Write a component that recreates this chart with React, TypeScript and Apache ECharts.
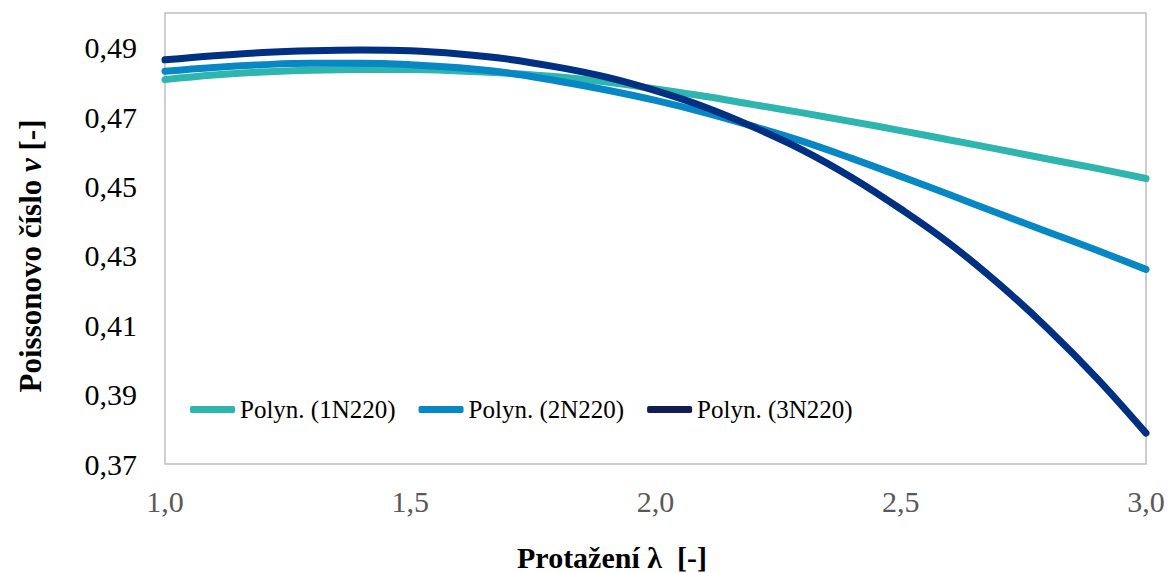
import React, { useEffect, useRef } from "react";
import * as echarts from "echarts";

// Stretch ratio λ at which each fitted curve is sampled
const lambdaValues = [
  1.0, 1.1, 1.2, 1.3, 1.4, 1.5, 1.6, 1.7, 1.8, 1.9, 2.0,
  2.1, 2.2, 2.3, 2.4, 2.5, 2.6, 2.7, 2.8, 2.9, 3.0,
];

// Poisson's ratio of the polynomial trend lines
const poly1N220 = [
  0.4808, 0.4821, 0.483, 0.4835, 0.4837, 0.4837, 0.4833, 0.4826, 0.4816, 0.4801, 0.4781,
  0.476, 0.4736, 0.4712, 0.4687, 0.4661, 0.4634, 0.4607, 0.4579, 0.4552, 0.4523,
];
const poly2N220 = [
  0.4832, 0.4843, 0.4851, 0.4855, 0.4855, 0.4851, 0.4842, 0.4827, 0.4804, 0.4778, 0.4748,
  0.4713, 0.4673, 0.463, 0.4581, 0.4529, 0.4476, 0.4422, 0.4369, 0.4316, 0.4261,
];
const poly3N220 = [
  0.4865, 0.4877, 0.4886, 0.4891, 0.4893, 0.4891, 0.4882, 0.4867, 0.4844, 0.4815, 0.4776,
  0.4729, 0.4671, 0.4605, 0.4526, 0.4435, 0.4335, 0.4219, 0.409, 0.3947, 0.3789,
];

const seriesNames = ["Polyn. (1N220)", "Polyn. (2N220)", "Polyn. (3N220)"];
const seriesValues = [poly1N220, poly2N220, poly3N220];
const seriesColors = ["#2DB5AE", "#0787C3", "#003082"];
const legendColors = ["#2DB5AE", "#0787C3", "#141B57"];

const FONT = '"Liberation Serif", "Times New Roman", serif';

export default function App() {
  const ref = useRef<HTMLDivElement>(null);

  useEffect(() => {
    if (!ref.current) return;
    const chart = echarts.init(ref.current, undefined, { renderer: "svg" });

    chart.setOption({
      animation: false,
      backgroundColor: "#ffffff",
      textStyle: { fontFamily: FONT },
      grid: {
        left: 165,
        top: 13,
        width: 981,
        height: 451,
        show: true,
        borderColor: "#BFBFBF",
        borderWidth: 1.5,
        backgroundColor: "transparent",
      },
      xAxis: {
        type: "value",
        min: 1,
        max: 3,
        interval: 0.5,
        axisLine: { show: false },
        axisTick: { show: false },
        splitLine: { show: false },
        axisLabel: {
          color: "#595959",
          fontSize: 30,
          fontFamily: FONT,
          margin: 22,
          formatter: (v: number) => v.toFixed(1).replace(".", ","),
        },
      },
      yAxis: {
        type: "value",
        min: 0.37,
        max: 0.5,
        interval: 0.02,
        axisLine: { show: false },
        axisTick: { show: false },
        splitLine: { show: false },
        axisLabel: {
          color: "#000000",
          fontSize: 30,
          fontFamily: FONT,
          margin: 28,
          showMaxLabel: false,
          formatter: (v: number) =>
            v > 0.495 ? "" : v.toFixed(2).replace(".", ","),
        },
      },
      legend: {
        left: 185,
        top: 392,
        itemWidth: 45,
        itemHeight: 7,
        itemGap: 23,
        icon: "roundRect",
        textStyle: { color: "#000000", fontSize: 25, fontFamily: FONT },
        data: seriesNames.map((name, i) => ({
          name,
          itemStyle: { color: legendColors[i] },
        })),
      },
      series: seriesNames.map((name, i) => ({
        name,
        type: "line",
        smooth: 0.4,
        showSymbol: false,
        symbol: "none",
        color: seriesColors[i],
        lineStyle: { width: 7, color: seriesColors[i], cap: "round" },
        data: lambdaValues.map((l, j) => [l, seriesValues[i][j]]),
        z: 2 + i,
      })),
      graphic: [
        {
          type: "text",
          x: 30,
          y: 256,
          rotation: Math.PI / 2,
          style: {
            text: "{a|Poissonovo číslo }{b|ν}{a| [-]}",
            align: "center",
            verticalAlign: "middle",
            rich: {
              a: { fontFamily: FONT, fontWeight: "bold", fontSize: 31, fill: "#000" },
              b: {
                fontFamily: FONT,
                fontWeight: "bold",
                fontStyle: "italic",
                fontSize: 31,
                fill: "#000",
              },
            },
          },
        },
        {
          type: "text",
          x: 612,
          y: 557,
          style: {
            text: "Protažení λ  [-]",
            align: "center",
            verticalAlign: "middle",
            font: `bold 30px ${FONT}`,
            fill: "#000",
          },
        },
      ],
    });

    return () => chart.dispose();
  }, []);

  return (
    <div
      ref={ref}
      style={{ position: "absolute", left: 0, top: 0, width: 1169, height: 573 }}
    />
  );
}
